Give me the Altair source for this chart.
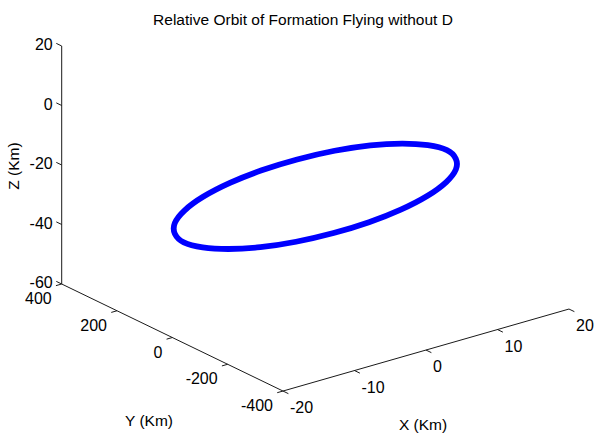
import altair as alt
import pandas as pd

# ---------------- data ----------------
title_text = "Relative Orbit of Formation Flying without D"
x_title, y_title, z_title = "X (Km)", "Y (Km)", "Z (Km)"
x_ticks = [-20, -10, 0, 10, 20]
y_ticks = [-400, -200, 0, 200, 400]
z_ticks = [-60, -40, -20, 0, 20]

orbit_x = [18.4, 17.7, 15.9, 13.0, 9.2, 4.7, 0.0, -4.7, -9.2, -13.0, -15.9, -17.7,
           -18.4, -17.7, -15.9, -13.0, -9.2, -4.7, 0.0, 4.7, 9.2, 13.0, 15.9, 17.7]
orbit_y = [0.0, 50.2, 97.0, 137.2, 168.0, 187.4, 194.0, 187.4, 168.0, 137.2, 97.0, 50.2,
           0.0, -50.2, -97.0, -137.2, -168.0, -187.4, -194.0, -187.4, -168.0, -137.2, -97.0, -50.2]
orbit_z = [-23.5, -23.6, -23.9, -24.3, -24.9, -25.6, -26.3, -27.0, -27.7, -28.3, -28.7, -29.0,
           -29.1, -29.0, -28.7, -28.3, -27.7, -27.0, -26.3, -25.6, -24.9, -24.3, -23.9, -23.6]

# ---------------- layout (3D box projection in pixels) ----------------
W, H = 596, 434
X0, Y0, Z0 = x_ticks[0], y_ticks[-1], z_ticks[0]
ORIGIN = (61.7, 284.0)
EX = (7.15, -2.05)
EY = (-0.2766, -0.1338)
EZ = (0.0, -2.975)
TICK = 6.0
FONT = "Liberation Sans, Arial"


def proj(x, y, z):
    px = ORIGIN[0] + (x - X0) * EX[0] + (y - Y0) * EY[0] + (z - Z0) * EZ[0]
    py = ORIGIN[1] + (x - X0) * EX[1] + (y - Y0) * EY[1] + (z - Z0) * EZ[1]
    return px, py


def unit(v):
    n = (v[0] ** 2 + v[1] ** 2) ** 0.5
    return (v[0] / n, v[1] / n)


xmin, xmax = min(x_ticks), max(x_ticks)
ymin, ymax = min(y_ticks), max(y_ticks)
zmin, zmax = min(z_ticks), max(z_ticks)

segs = []
# axis lines
for a, b in [((xmin, ymax, zmin), (xmin, ymax, zmax)),
             ((xmin, ymax, zmin), (xmin, ymin, zmin)),
             ((xmin, ymin, zmin), (xmax, ymin, zmin))]:
    p, q = proj(*a), proj(*b)
    segs.append(dict(x=p[0], y=p[1], x2=q[0], y2=q[1]))

# ticks
dz = unit(EY)                      # z ticks point outward along +y
dy = unit((-EX[0], -EX[1]))        # y ticks point outward along -x
dx = unit((-EY[0], -EY[1]))        # x ticks point outward along -y
for v in z_ticks:
    p = proj(xmin, ymax, v)
    segs.append(dict(x=p[0], y=p[1], x2=p[0] + TICK * dz[0], y2=p[1] + TICK * dz[1]))
for v in y_ticks:
    p = proj(xmin, v, zmin)
    segs.append(dict(x=p[0], y=p[1], x2=p[0] + TICK * dy[0], y2=p[1] + TICK * dy[1]))
for v in x_ticks:
    p = proj(v, ymin, zmin)
    segs.append(dict(x=p[0], y=p[1], x2=p[0] + TICK * dx[0], y2=p[1] + TICK * dx[1]))
seg_df = pd.DataFrame(segs)

zl = [dict(x=proj(xmin, ymax, v)[0] - 9, y=proj(xmin, ymax, v)[1] - 1, t=str(v)) for v in z_ticks]
yl = [dict(x=proj(xmin, v, zmin)[0] - 10, y=proj(xmin, v, zmin)[1] + 15, t=str(v)) for v in y_ticks]
xl = [dict(x=proj(v, ymin, zmin)[0] + 7, y=proj(v, ymin, zmin)[1] + 17, t=str(v)) for v in x_ticks]

orb = []
for i, (a, b, c) in enumerate(zip(orbit_x, orbit_y, orbit_z)):
    p = proj(a, b, c)
    orb.append(dict(i=i, x=p[0], y=p[1]))
orb_df = pd.DataFrame(orb)

titles_df = pd.DataFrame([
    dict(x=303, y=20, t=title_text),
    dict(x=149, y=421, t=y_title),
    dict(x=423, y=425, t=x_title),
])
ztitle_df = pd.DataFrame([dict(x=14, y=166, t=z_title)])

xs = alt.Scale(domain=[0, W], nice=False, zero=False)
ys = alt.Scale(domain=[0, H], nice=False, zero=False, reverse=True)
X = lambda f="x": alt.X(f, type="quantitative", scale=xs, axis=None)
Y = lambda f="y": alt.Y(f, type="quantitative", scale=ys, axis=None)

axes = alt.Chart(seg_df).mark_rule(color="#1a1a1a", strokeWidth=1).encode(
    x=X(), y=Y(), x2="x2", y2="y2")

orbit = alt.Chart(orb_df).mark_line(color="#0000ff", strokeWidth=5.8,
                                    interpolate="cardinal-closed").encode(
    x=X(), y=Y(), order="i:Q")

ztext = alt.Chart(pd.DataFrame(zl)).mark_text(
    align="right", baseline="middle", font=FONT, fontSize=16, color="black").encode(
    x=X(), y=Y(), text="t:N")
ytext = alt.Chart(pd.DataFrame(yl)).mark_text(
    align="right", baseline="middle", font=FONT, fontSize=16, color="black").encode(
    x=X(), y=Y(), text="t:N")
xtext = alt.Chart(pd.DataFrame(xl)).mark_text(
    align="left", baseline="middle", font=FONT, fontSize=16, color="black").encode(
    x=X(), y=Y(), text="t:N")
ttext = alt.Chart(titles_df).mark_text(
    align="center", baseline="middle", font=FONT, fontSize=15.5, color="black").encode(
    x=X(), y=Y(), text="t:N")
zt = alt.Chart(ztitle_df).mark_text(
    align="center", baseline="middle", font=FONT, fontSize=15.5, angle=270, color="black").encode(
    x=X(), y=Y(), text="t:N")

chart = alt.layer(axes, orbit, ztext, ytext, xtext, ttext, zt).properties(
    width=W, height=H, padding=0, autosize=alt.AutoSizeParams(type="none"),
    background="white",
).configure_view(stroke=None)

chart.save("out.html", embed_options={"renderer": "svg", "actions": False})
